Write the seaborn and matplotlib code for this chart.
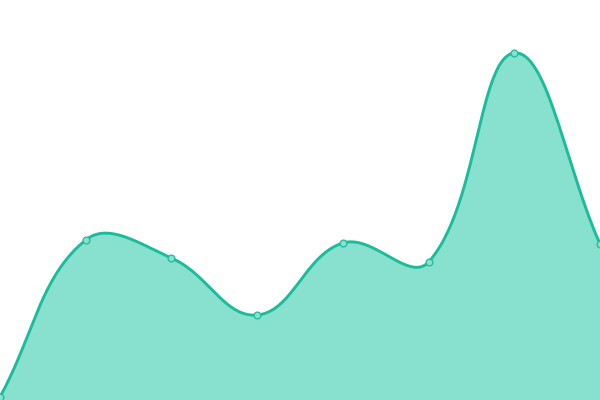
import numpy as np
import matplotlib
matplotlib.use("Agg")
import matplotlib.pyplot as plt
import seaborn as sns

# Data
categories = [0, 1, 2, 3, 4, 5, 6, 7]
values = [3, 160, 142, 85, 157, 138, 347, 156]

LINE = "#1abc9c"
FILL = "#88e0cf"
TENSION = 0.4


def spline(px, py, tension=TENSION, n=60):
    """Bezier spline through points (pixel space), tension-style smoothing."""
    px = np.asarray(px, float)
    py = np.asarray(py, float)
    N = len(px)
    cpx_prev = np.zeros(N); cpy_prev = np.zeros(N)
    cpx_next = np.zeros(N); cpy_next = np.zeros(N)
    for i in range(N):
        ip = max(i - 1, 0); inx = min(i + 1, N - 1)
        d01 = np.hypot(px[i] - px[ip], py[i] - py[ip])
        d12 = np.hypot(px[inx] - px[i], py[inx] - py[i])
        s01 = d01 / (d01 + d12) if d01 + d12 else 0
        s12 = d12 / (d01 + d12) if d01 + d12 else 0
        fa = tension * s01
        fb = tension * s12
        dx = px[inx] - px[ip]; dy = py[inx] - py[ip]
        cpx_prev[i] = px[i] - fa * dx; cpy_prev[i] = py[i] - fa * dy
        cpx_next[i] = px[i] + fb * dx; cpy_next[i] = py[i] + fb * dy
    t = np.linspace(0, 1, n)[:, None]
    out = []
    for i in range(N - 1):
        p0 = np.array([px[i], py[i]])
        p1 = np.array([cpx_next[i], cpy_next[i]])
        p2 = np.array([cpx_prev[i + 1], cpy_prev[i + 1]])
        p3 = np.array([px[i + 1], py[i + 1]])
        b = ((1 - t) ** 3) * p0 + 3 * ((1 - t) ** 2) * t * p1 + 3 * (1 - t) * t ** 2 * p2 + t ** 3 * p3
        out.append(b if i == 0 else b[1:])
    return np.vstack(out)


sns.set_theme(style="white")
fig = plt.figure(figsize=(6, 4), dpi=100)
ax = fig.add_axes([0, 0, 1, 1])
ax.set_xlim(0, 7)
ax.set_ylim(0, 400)

# compute smoothing in pixel space, then map back to data
pix = ax.transData.transform(np.column_stack([categories, values]))
curve_pix = spline(pix[:, 0], pix[:, 1])
curve = ax.transData.inverted().transform(curve_pix)
sx, sy = curve[:, 0], curve[:, 1]

ax.fill_between(sx, sy, 0, color=FILL, linewidth=0)
sns.lineplot(x=sx, y=sy, ax=ax, color=LINE, linewidth=2.1, sort=False)
sns.scatterplot(x=categories, y=values, ax=ax, color=FILL, edgecolor=LINE,
                linewidth=0.9, s=24, zorder=5, clip_on=False)
ax.set_xlim(0, 7)
ax.set_ylim(0, 400)
ax.axis("off")
fig.savefig("out.png", dpi=100)
